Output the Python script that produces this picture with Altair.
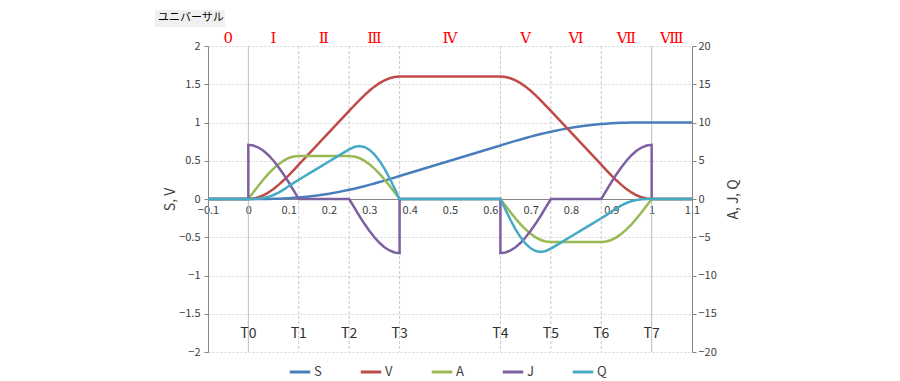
import altair as alt
import pandas as pd

# ---------------- data ----------------
t = [-0.1, 0.0, 0.0125, 0.025, 0.0375, 0.05, 0.0625, 0.075, 0.0875, 0.1, 0.1125, 0.125,
     0.15, 0.175, 0.2, 0.225, 0.25,
     0.2625, 0.275, 0.2875, 0.3, 0.3125, 0.325, 0.3375, 0.35, 0.3625, 0.375,
     0.625,
     0.6375, 0.65, 0.6625, 0.675, 0.6875, 0.7, 0.7125, 0.725, 0.7375, 0.75,
     0.775, 0.8, 0.825, 0.85, 0.875,
     0.8875, 0.9, 0.9125, 0.925, 0.9375, 0.95, 0.9625, 0.975, 0.9875, 1.0,
     1.1]

S = [0, 0, 0.00002, 0.00018, 0.00062, 0.00145, 0.00279, 0.00476, 0.00744, 0.0109, 0.01519, 0.02035,
     0.03332, 0.0498, 0.0698, 0.09332, 0.12036,
     0.1352, 0.1509, 0.16744, 0.18477, 0.2028, 0.22146, 0.24063, 0.2602, 0.28004, 0.3,
     0.7,
     0.71996, 0.7398, 0.75937, 0.77854, 0.7972, 0.81523, 0.83256, 0.8491, 0.8648, 0.87964,
     0.90668, 0.9302, 0.9502, 0.96668, 0.97965,
     0.98481, 0.9891, 0.99256, 0.99524, 0.99721, 0.99855, 0.99938, 0.99982, 0.99998, 1.0,
     1.0]

V = [0, 0, 0.0055, 0.0219, 0.0488, 0.0856, 0.1312, 0.1847, 0.2447, 0.3096, 0.378, 0.4481,
     0.5889, 0.7297, 0.8704, 1.0112, 1.152,
     1.2221, 1.2905, 1.3554, 1.4154, 1.4688, 1.5145, 1.5512, 1.5782, 1.5946, 1.6001,
     1.6001,
     1.5946, 1.5782, 1.5512, 1.5145, 1.4688, 1.4154, 1.3554, 1.2905, 1.2221, 1.152,
     1.0112, 0.8704, 0.7297, 0.5889, 0.4481,
     0.378, 0.3096, 0.2447, 0.1847, 0.1312, 0.0856, 0.0488, 0.0219, 0.0055, 0,
     0]

A = [0, 0, 0.881, 1.74, 2.556, 3.31, 3.982, 4.556, 5.017, 5.355, 5.562, 5.631,
     5.631, 5.631, 5.631, 5.631, 5.631,
     5.562, 5.355, 5.017, 4.556, 3.982, 3.31, 2.556, 1.74, 0.881, 0,
     0,
     -0.881, -1.74, -2.556, -3.31, -3.982, -4.556, -5.017, -5.355, -5.562, -5.631,
     -5.631, -5.631, -5.631, -5.631, -5.631,
     -5.562, -5.355, -5.017, -4.556, -3.982, -3.31, -2.556, -1.74, -0.881, 0,
     0]

Q = [0, 0, 0.005, 0.038, 0.125, 0.283, 0.523, 0.842, 1.228, 1.658, 2.102, 2.523,
     3.316, 4.109, 4.901, 5.694, 6.487,
     6.797, 6.91, 6.8, 6.448, 5.849, 5.013, 3.965, 2.746, 1.405, 0,
     0,
     -1.405, -2.746, -3.965, -5.013, -5.849, -6.448, -6.8, -6.91, -6.797, -6.487,
     -5.694, -4.901, -4.109, -3.316, -2.523,
     -2.102, -1.658, -1.228, -0.842, -0.523, -0.283, -0.125, -0.038, -0.005, 0,
     0]

tJ = [-0.1, 0.0, 0.0, 0.0125, 0.025, 0.0375, 0.05, 0.0625, 0.075, 0.0875, 0.1, 0.1125, 0.125,
      0.25, 0.2625, 0.275, 0.2875, 0.3, 0.3125, 0.325, 0.3375, 0.35, 0.3625, 0.375, 0.375,
      0.625, 0.625, 0.6375, 0.65, 0.6625, 0.675, 0.6875, 0.7, 0.7125, 0.725, 0.7375, 0.75,
      0.875, 0.8875, 0.9, 0.9125, 0.925, 0.9375, 0.95, 0.9625, 0.975, 0.9875, 1.0, 1.0,
      1.1]
J = [0, 0, 7.076, 6.989, 6.73, 6.305, 5.725, 5.004, 4.159, 3.212, 2.187, 1.107, 0,
     0, -1.107, -2.187, -3.212, -4.159, -5.004, -5.725, -6.305, -6.73, -6.989, -7.076, 0,
     0, -7.076, -6.989, -6.73, -6.305, -5.725, -5.004, -4.159, -3.212, -2.187, -1.107, 0,
     0, 1.107, 2.187, 3.212, 4.159, 5.004, 5.725, 6.305, 6.73, 6.989, 7.076, 0,
     0]

series_names = ["S", "V", "A", "J", "Q"]
series_colors = ["#4A7EBB", "#BE4B48", "#98B954", "#7D60A0", "#46AAC5"]

t_names = ["T0", "T1", "T2", "T3", "T4", "T5", "T6", "T7"]
t_pos = [0, 0.125, 0.25, 0.375, 0.625, 0.75, 0.875, 1.0]
t_label_y = -1.77

sec_names = ["0", "Ⅰ", "Ⅱ", "Ⅲ", "Ⅳ", "Ⅴ", "Ⅵ", "Ⅶ", "Ⅷ"]
sec_pos = [-0.05, 0.0625, 0.1875, 0.3125, 0.5, 0.6875, 0.8125, 0.9375, 1.05]
sec_y = 2.1

x_ticks = [-0.1, 0, 0.1, 0.2, 0.3, 0.4, 0.5, 0.6, 0.7, 0.8, 0.9, 1, 1.1]
left_ticks = [-2, -1.5, -1, -0.5, 0, 0.5, 1, 1.5, 2]
right_ticks = [-20, -15, -10, -5, 0, 5, 10, 15, 20]

# ---------------- tables ----------------
rows = []
for name, xs, ys in [("S", t, S), ("V", t, V), ("A", t, A), ("J", tJ, J), ("Q", t, Q)]:
    for i, (x, y) in enumerate(zip(xs, ys)):
        rows.append({"t": x, "val": y, "series": name, "idx": i})
df = pd.DataFrame(rows)

tdf = pd.DataFrame({"t": t_pos, "val": [t_label_y] * len(t_pos), "label": t_names})
edge_df = pd.DataFrame({"t": [t_pos[0], t_pos[-1]]})
mid_df = pd.DataFrame({"t": t_pos[1:-1]})
sdf = pd.DataFrame({"t": sec_pos, "val": [sec_y] * len(sec_pos), "label": sec_names})

FONT = "Noto Sans CJK JP"
AX = "#868686"
LAB = "#404040"

xscale = alt.Scale(domain=[-0.1, 1.1], nice=False, zero=False)
xaxis = alt.Axis(values=x_ticks, format="~g", title=None, offset=-153, grid=False,
                 ticks=False, domainColor=AX, labelPadding=5, labelFlush=False,
                 labelFont=FONT, labelFontSize=11, labelColor=LAB)
X = alt.X("t:Q", scale=xscale, axis=xaxis)

lscale = alt.Scale(domain=[-2, 2], nice=False, zero=False)
laxis = alt.Axis(values=left_ticks, format="~g", title="S, V", orient="left",
                 grid=True, gridDash=[2, 2], gridColor="#d4d4d4",
                 domainColor=AX, tickColor=AX, tickSize=4, labelFlush=False,
                 labelPadding=4,
                 labelFont=FONT, labelFontSize=11, labelColor=LAB,
                 titleFont=FONT, titleFontSize=14, titleFontWeight="normal",
                 titleColor=LAB, titleX=-38, titleY=153, titleBaseline="middle",
                 titleAngle=270)
YL = alt.Y("val:Q", scale=lscale, axis=laxis)

rscale = alt.Scale(domain=[-20, 20], nice=False, zero=False)
raxis = alt.Axis(values=right_ticks, format="~g", title="A, J, Q", orient="right",
                 grid=False, domainColor=AX, tickColor=AX, tickSize=4, labelFlush=False,
                 labelFont=FONT, labelFontSize=11, labelColor=LAB,
                 titleFont=FONT, titleFontSize=14, titleFontWeight="normal",
                 titleColor=LAB, titleX=41, titleY=153, titleBaseline="middle",
                 titleAngle=270)
YR = alt.Y("val:Q", scale=rscale, axis=raxis)

color = alt.Color("series:N", scale=alt.Scale(domain=series_names, range=series_colors),
                  legend=alt.Legend(title=None, orient="none", direction="horizontal",
                                    legendX=80, legendY=314,
                                    symbolType="stroke", symbolSize=420, symbolStrokeWidth=3,
                                    labelFont=FONT, labelFontSize=13, labelColor=LAB,
                                    labelOffset=2, columnPadding=32))

base = alt.Chart(df)


def line(name, y):
    return base.transform_filter(alt.datum.series == name).mark_line(
        strokeWidth=2.5, interpolate="linear").encode(
        x=X, y=y, color=color, order=alt.Order("idx:Q"))


mid_rules = alt.Chart(mid_df).mark_rule(color="#c8c8c8", strokeDash=[3, 2], strokeWidth=1).encode(x=X)
edge_rules = alt.Chart(edge_df).mark_rule(color="#bdbdbd", strokeWidth=1).encode(x=X)

t_text = alt.Chart(tdf).mark_text(font=FONT, fontSize=14, color="#303030", baseline="middle").encode(
    x=X, y=YL, text="label:N")
sec_text = alt.Chart(sdf).mark_text(font="DejaVu Serif", fontSize=15, color="#FF0000",
                                    baseline="middle").encode(
    x=X, y=YL, text="label:N")

one = pd.DataFrame({"k": [0]})
title_box = alt.Chart(one).mark_rect(color="#f0f0f0").encode(
    x=alt.value(-53), x2=alt.value(17), y=alt.value(-36), y2=alt.value(-19))
title_text = alt.Chart(one).mark_text(font=FONT, fontSize=11, color="#000000",
                                      align="left", baseline="middle").encode(
    x=alt.value(-50), y=alt.value(-28), text=alt.value("ユニバーサル"))

left = alt.layer(mid_rules, edge_rules, line("S", YL), line("V", YL), t_text, sec_text)
right = alt.layer(line("A", YR), line("J", YR), line("Q", YR))

chart = alt.layer(title_box, title_text, left, right).resolve_scale(y="independent").properties(
    width=484, height=306,
    padding={"left": 147, "top": 2, "right": 5, "bottom": 0},
    background="white",
).configure_view(stroke=None)

chart.save("out.html", embed_options={"renderer": "svg", "actions": False})
